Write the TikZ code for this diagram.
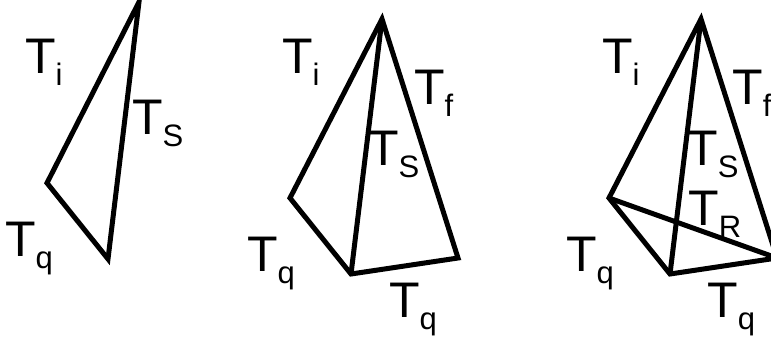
\documentclass[tikz,border=0pt]{standalone}
\usepackage{fontspec}
\setmainfont{Liberation Sans}
\newcommand\Tlab[1]{\fontsize{50}{50}\selectfont T\raisebox{-12.5pt}{\fontsize{31}{31}\selectfont #1}}
\begin{document}
\begin{tikzpicture}[x=1pt,y=-1pt,
  edge/.style={line width=5pt,line join=miter,black},
  lab/.style={inner sep=0pt,anchor=base west}]
\useasboundingbox (0,0) rectangle (771,340);
\clip (0,0) rectangle (771,340);
% ---------- panel 1 ----------
\node[lab] (a1) at (25,73) {\Tlab{i}};
\node[lab] (a2) at (132,134) {\Tlab{S}};
\node[lab] (a3) at (5,256) {\Tlab{q}};
\coordinate (p1t) at (139,2);
\coordinate (p1l) at (47,183);
\coordinate (p1b) at (108,259);
\draw[edge] (p1l) -- (p1t) -- (p1b) -- cycle;
% ---------- panel 2 ----------
\node[lab] (b1) at (282,73) {\Tlab{i}};
\node[lab] (b2) at (414,104) {\Tlab{f}};
\node[lab] (b3) at (368,165) {\Tlab{S}};
\node[lab] (b4) at (247,271) {\Tlab{q}};
\node[lab] (b5) at (389,317) {\Tlab{q}};
\coordinate (p2t) at (382,19);
\coordinate (p2l) at (290,198);
\coordinate (p2b) at (351,274);
\coordinate (p2r) at (458,258);
\draw[edge] (p2l) -- (p2t) -- (p2r) -- (p2b) -- cycle;
\draw[edge] (p2b) -- (p2t);
% ---------- panel 3 ----------
\node[lab] (c1) at (602,73) {\Tlab{i}};
\node[lab] (c2) at (732,104) {\Tlab{f}};
\node[lab] (c3) at (687,165) {\Tlab{S}};
\node[lab] (c4) at (688,225) {\Tlab{R}};
\node[lab] (c5) at (566,271) {\Tlab{q}};
\node[lab] (c6) at (707,317) {\Tlab{q}};
\coordinate (p3t) at (701,19);
\coordinate (p3l) at (609,198);
\coordinate (p3b) at (670,274);
\coordinate (p3r) at (777,258);
\draw[edge] (p3l) -- (p3t) -- (p3r) -- (p3b) -- cycle;
\draw[edge] (p3b) -- (p3t);
\draw[edge] (p3l) -- (p3r);
\end{tikzpicture}
\end{document}
